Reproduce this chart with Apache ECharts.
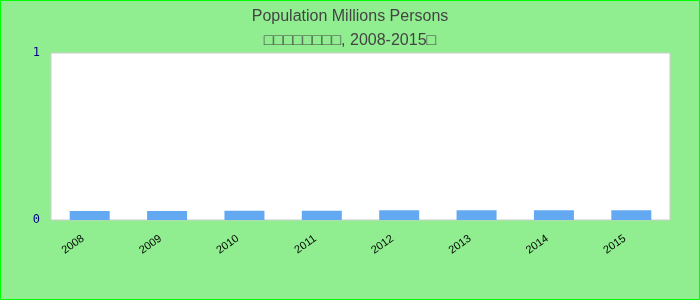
<!DOCTYPE html>
<html>
<head>
<meta charset="utf-8">
<script src="https://cdn.jsdelivr.net/npm/echarts@6/dist/echarts.min.js"></script>
<style>html,body{margin:0;padding:0;}#c{width:700px;height:300px;}</style>
</head>
<body>
<div id="c"></div>
<script>
const titleText = 'Population Millions Persons';
const subtitleText = '□□□□□□□□, 2008-2015□';
const categories = ['2008','2009','2010','2011','2012','2013','2014','2015'];
const values = [0.054, 0.054, 0.055, 0.055, 0.058, 0.058, 0.059, 0.059];
const yTicks = [0, 1];

const chart = echarts.init(document.getElementById('c'), null, {renderer:'canvas'});
chart.setOption({
  backgroundColor: '#90ee90',
  animation: false,
  graphic: [{
    type: 'rect', silent: true, z: 100,
    shape: {x: 0.5, y: 0.5, width: 699, height: 299},
    style: {fill: 'none', stroke: '#00ff00', lineWidth: 1}
  }],
  title: {
    text: titleText,
    subtext: subtitleText,
    left: 'center', top: 4, itemGap: 8,
    textStyle: {fontFamily: 'Liberation Sans', fontSize: 16, fontWeight: 'normal', color: '#444'},
    subtextStyle: {fontFamily: 'Liberation Sans', fontSize: 16, color: '#444'}
  },
  grid: {left: 51, right: 30, top: 53, bottom: 80, show: true, backgroundColor: '#fff', borderColor: '#ccc', borderWidth: 1},
  xAxis: {
    type: 'category', data: categories,
    axisLine: {show: false}, axisTick: {show: false},
    axisLabel: {rotate: 35, margin: 13, padding: [0, 8, 0, 0], fontFamily: 'Liberation Sans', fontSize: 11, color: '#000'}
  },
  yAxis: {
    type: 'value', min: yTicks[0], max: yTicks[yTicks.length-1], interval: 1,
    splitLine: {show: false}, axisLine: {show: false}, axisTick: {show: false},
    axisLabel: {margin: 11, padding: [3, 0, 0, 0], fontFamily: 'DejaVu Sans Mono', fontSize: 12, color: '#00008b'}
  },
  series: [{
    type: 'bar', data: values, barWidth: 40,
    itemStyle: {color: '#63a9f2'}
  }]
});
</script>
</body>
</html>
